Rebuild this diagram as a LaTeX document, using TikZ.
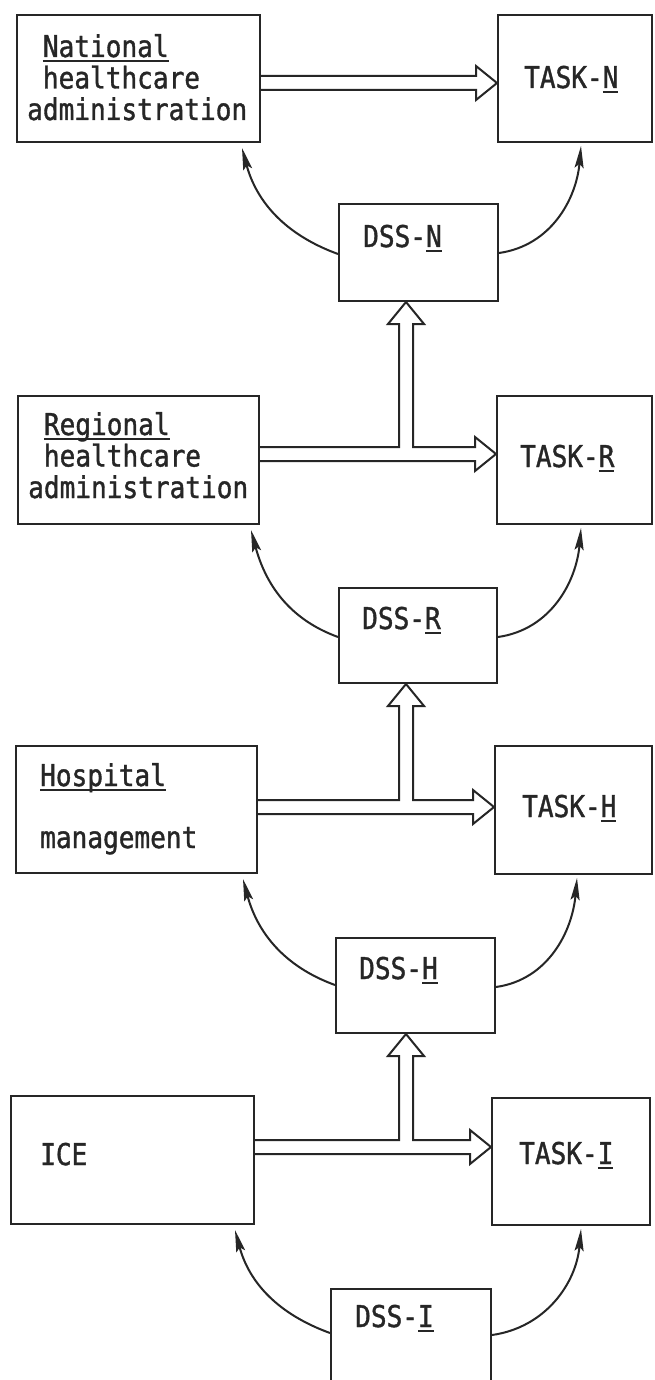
\documentclass[tikz,border=0pt]{standalone}
\usepackage{fontspec}
\newfontfamily\typewriter[FakeStretch=0.87,FakeBold=1.2]{DejaVu Sans Mono}
\usetikzlibrary{calc,arrows.meta}
% underline set just below the baseline, through any descenders
\newcommand\ulw[1]{\setbox0\hbox{#1}\rlap{\rule[-5pt]{\wd0}{1.8pt}}\box0}
% double-line channel from #1 splitting up to #3 and right to #2, centred on #4
\newcommand\teearrow[4]{%
  \draw[chan] ($(#1.east |- #4)+(0,-7)$) -- ($(vx |- #4)+(-7,-7)$)
    -- ($(vx |- #3.south)+(-7,22)$) -- ($(vx |- #3.south)+(-18,22)$)
    -- (vx |- #3.south) -- ($(vx |- #3.south)+(18,22)$)
    -- ($(vx |- #3.south)+(7,22)$) -- ($(vx |- #4)+(7,-7)$)
    -- ($(#2.west |- #4)+(-21,-7)$) -- ($(#2.west |- #4)+(-21,-17)$)
    -- (#2.west |- #4) -- ($(#2.west |- #4)+(-21,17)$)
    -- ($(#2.west |- #4)+(-21,7)$) -- ($(#1.east |- #4)+(0,7)$);}
\definecolor{ink}{RGB}{38,38,38}
\begin{document}
\begin{tikzpicture}[x=1pt,y=-1pt]
\tikzset{
  box/.style={draw=ink, line width=2pt, inner sep=0pt, anchor=north west},
  lbl/.style={anchor=base west, inner sep=0pt, text=ink,
    font=\typewriter\fontsize{30}{31.5}\selectfont, align=left},
  feed/.style={draw=ink, line width=2pt, -{Stealth[length=22pt,width=9pt,inset=4pt]}},
  chan/.style={draw=ink, line width=2pt, line join=miter},
}
\fill[white] (0,0) rectangle (654,1380);
\path[use as bounding box] (0,0) rectangle (654,1380);
\clip (0,0) rectangle (654,1380);

% boxes
\node[box, minimum width=243pt, minimum height=127pt] (nat)   at (16,14)   {};
\node[box, minimum width=154pt, minimum height=127pt] (taskN) at (497,14)  {};
\node[box, minimum width=159pt, minimum height=97pt]  (dssN)  at (338,203) {};
\node[box, minimum width=241pt, minimum height=128pt] (reg)   at (17,395)  {};
\node[box, minimum width=155pt, minimum height=128pt] (taskR) at (496,395) {};
\node[box, minimum width=158pt, minimum height=95pt]  (dssR)  at (338,587) {};
\node[box, minimum width=241pt, minimum height=127pt] (hosp)  at (15,745)  {};
\node[box, minimum width=157pt, minimum height=128pt] (taskH) at (494,745) {};
\node[box, minimum width=159pt, minimum height=95pt]  (dssH)  at (335,937) {};
\node[box, minimum width=243pt, minimum height=128pt] (ice)   at (10,1095) {};
\node[box, minimum width=158pt, minimum height=127pt] (taskI) at (491,1097){};
\node[box, minimum width=160pt, minimum height=95pt]  (dssI)  at (330,1288){};

% texts (multi-line blocks are placed by their last baseline)
\node[lbl] (natT) at (27,120) {\hphantom{a}\ulw{National}\\\hphantom{a}healthcare\\administration};
\node[lbl] (regT) at (28,498) {\hphantom{a}\ulw{Regional}\\\hphantom{a}healthcare\\administration};
\node[lbl] (hospT) at (40,786) {\ulw{Hospital}};
\node[lbl] (mgmtT) at (40,848) {management};
\node[lbl] (iceT) at (40,1165) {ICE};
\node[lbl] (taskNT) at (524,88) {TASK-\ulw{N}};
\node[lbl] (taskRT) at (520,467) {TASK-\ulw{R}};
\node[lbl] (taskHT) at (522,817) {TASK-\ulw{H}};
\node[lbl] (taskIT) at (519,1164) {TASK-\ulw{I}};
\node[lbl] (dssNT) at (363,247) {DSS-\ulw{N}};
\node[lbl] (dssRT) at (362,629) {DSS-\ulw{R}};
\node[lbl] (dssHT) at (359,979) {DSS-\ulw{H}};
\node[lbl] (dssIT) at (355,1327) {DSS-\ulw{I}};

% channel geometry
\coordinate (vx) at (406,0);
\coordinate (cN) at (0,83);
\coordinate (cR) at (0,454);
\coordinate (cH) at (0,807);
\coordinate (cI) at (0,1147);

% top level: straight hollow arrow
\draw[chan] ($(nat.east |- cN)+(0,-7)$) -- ($(taskN.west |- cN)+(-21,-7)$)
  -- ($(taskN.west |- cN)+(-21,-17)$) -- (taskN.west |- cN)
  -- ($(taskN.west |- cN)+(-21,17)$) -- ($(taskN.west |- cN)+(-21,7)$)
  -- ($(nat.east |- cN)+(0,7)$);
% lower levels: split channels
\teearrow{reg}{taskR}{dssN}{cR}
\teearrow{hosp}{taskH}{dssR}{cH}
\teearrow{ice}{taskI}{dssH}{cI}

% feedback curves from each DSS
\draw[feed] ($(dssN.north west)+(0,51)$) to[out=160,in=-75] ($(nat.south east)+(-19,5)$);
\draw[feed] ($(dssN.north east)+(0,50)$) to[out=8,in=-95] ($(taskN.south west)+(84,3)$);
\draw[feed] ($(dssR.north west)+(0,50)$) to[out=160,in=-75] ($(reg.south east)+(-9,5)$);
\draw[feed] ($(dssR.north east)+(0,50)$) to[out=8,in=-95] ($(taskR.south west)+(85,3)$);
\draw[feed] ($(dssH.north west)+(0,48)$) to[out=160,in=-75] ($(hosp.south east)+(-15,5)$);
\draw[feed] ($(dssH.north east)+(0,50)$) to[out=8,in=-95] ($(taskH.south west)+(83,3)$);
\draw[feed] ($(dssI.north west)+(0,45)$) to[out=160,in=-75] ($(ice.south east)+(-20,5)$);
\draw[feed] ($(dssI.north east)+(0,47)$) to[out=8,in=-95] ($(taskI.south west)+(90,3)$);
\end{tikzpicture}
\end{document}
